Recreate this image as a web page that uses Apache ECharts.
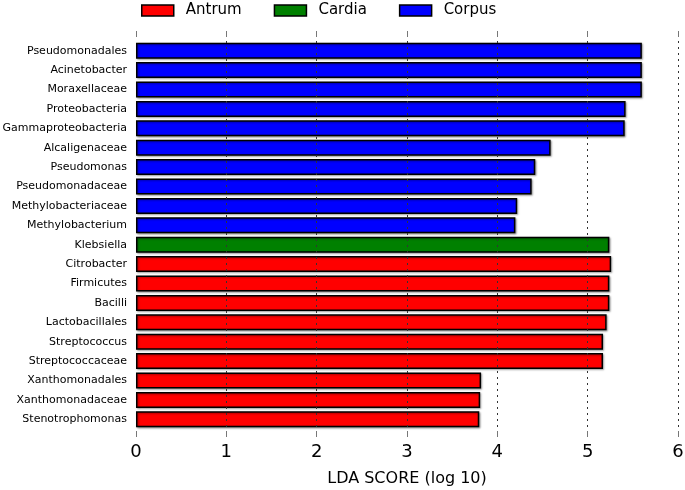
<!DOCTYPE html>
<html><head><meta charset="utf-8">
<script src="https://cdn.jsdelivr.net/npm/echarts@6/dist/echarts.min.js"></script>
<style>html,body{margin:0;padding:0;background:#fff}#c{width:685px;height:490px}</style>
</head><body><div id="c"></div>
<script>
const categories = ["Pseudomonadales","Acinetobacter","Moraxellaceae","Proteobacteria","Gammaproteobacteria","Alcaligenaceae","Pseudomonas","Pseudomonadaceae","Methylobacteriaceae","Methylobacterium","Klebsiella","Citrobacter","Firmicutes","Bacilli","Lactobacillales","Streptococcus","Streptococcaceae","Xanthomonadales","Xanthomonadaceae","Stenotrophomonas"];
const ldaScores = [5.60,5.60,5.60,5.42,5.41,4.59,4.42,4.38,4.22,4.20,5.24,5.26,5.24,5.24,5.21,5.17,5.17,3.82,3.81,3.80];
const groupOf = ["Corpus","Corpus","Corpus","Corpus","Corpus","Corpus","Corpus","Corpus","Corpus","Corpus","Cardia","Antrum","Antrum","Antrum","Antrum","Antrum","Antrum","Antrum","Antrum","Antrum"];
const groups = ["Antrum","Cardia","Corpus"];
const groupColors = ["#ff0000","#008000","#0000ff"];
const xTicks = [0,1,2,3,4,5,6];

const FONT = "DejaVu Sans";
const series = groups.map((g, gi) => ({
  name: g, type: 'bar', stack: 'lda', barWidth: 16,
  itemStyle: {color: groupColors[gi], borderColor: '#000', borderWidth: 1.5,
    shadowColor: 'rgba(0,0,0,0.35)', shadowOffsetX: 1, shadowOffsetY: 1, shadowBlur: 2},
  data: ldaScores.map((v, i) => groupOf[i] === g ? v : '-')
}));
// dotted grid lines drawn over the bars
series.push({
  name: 'grid', type: 'line', data: [], z: 10, silent: true,
  markLine: {silent: true, symbol: 'none', label: {show: false},
    lineStyle: {color: '#333', type: [2, 4], width: 1},
    data: xTicks.slice(1).map(t => ({xAxis: t}))}
});

const chart = echarts.init(document.getElementById('c'), null, {renderer: 'canvas'});
chart.setOption({
  animation: false,
  textStyle: {fontFamily: FONT},
  legend: {
    left: 141, top: 3, padding: 0, itemWidth: 32, itemHeight: 11, itemGap: 32,
    icon: 'rect',
    textStyle: {fontSize: 15, color: '#000', fontFamily: FONT, padding: [0,0,0,7]},
    data: groups.map((g, gi) => ({name: g, itemStyle: {color: groupColors[gi], borderColor: '#000', borderWidth: 1.5, shadowBlur: 0, shadowOffsetX: 0, shadowOffsetY: 0}}))
  },
  grid: {left: 136, right: 7, top: 41, height: 388, containLabel: false, outerBoundsMode: 'none'},
  xAxis: [{
    type: 'value', min: xTicks[0], max: xTicks[xTicks.length-1], interval: 1, position: 'bottom', offset: 2,
    axisLine: {show: false},
    axisTick: {show: true, length: 6, lineStyle: {color: '#777'}},
    axisLabel: {fontSize: 18, color: '#000', margin: 12, fontFamily: FONT},
    splitLine: {show: false},
    name: 'LDA SCORE (log 10)', nameLocation: 'middle', nameGap: 40,
    nameTextStyle: {fontSize: 16, color: '#000', fontFamily: FONT}
  }, {
    type: 'value', min: xTicks[0], max: xTicks[xTicks.length-1], interval: 1, position: 'top', offset: 4,
    axisLine: {show: false},
    axisTick: {show: true, length: 6, lineStyle: {color: '#777'}},
    axisLabel: {show: false}, splitLine: {show: false}
  }],
  yAxis: {
    type: 'category', data: categories, inverse: true,
    axisLine: {show: false}, axisTick: {show: false},
    axisLabel: {fontSize: 11, color: '#000', margin: 9, fontFamily: FONT}
  },
  series: series
});
</script></body></html>
